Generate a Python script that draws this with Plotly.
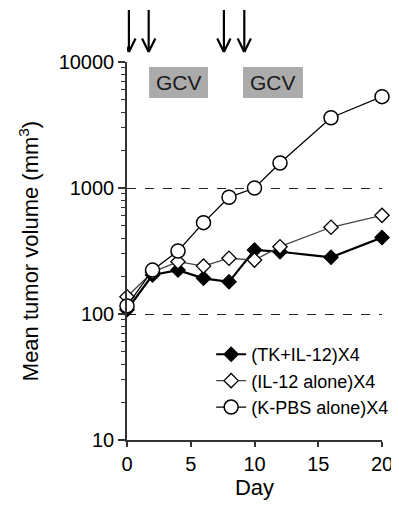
import plotly.graph_objects as go

days = [0, 2, 4, 6, 8, 10, 12, 16, 20]
tk_il12 = [108, 204, 223, 192, 180, 322, 312, 282, 404]
il12_alone = [137, 215, 260, 240, 277, 268, 342, 488, 607]
kpbs_alone = [116, 223, 316, 531, 844, 1000, 1580, 3610, 5310]

series_names = ["(TK+IL-12)X4", "(IL-12 alone)X4", "(K-PBS alone)X4"]
arrow_days = [0.15, 1.7, 7.6, 9.2]
gcv_spans = [(1.73, 6.35), (9.1, 13.8)]
gcv_label = "GCV"
y_ticks = [10, 100, 1000, 10000]
x_ticks = [0, 5, 10, 15, 20]

FONT = "Liberation Sans, Arial, sans-serif"

fig = go.Figure()
fig.add_trace(go.Scatter(
    x=days, y=tk_il12, name=series_names[0], mode="lines+markers",
    line=dict(color="black", width=2.2),
    marker=dict(symbol="diamond", size=11, color="black", line=dict(color="black", width=1.2)),
    cliponaxis=False))
fig.add_trace(go.Scatter(
    x=days, y=il12_alone, name=series_names[1], mode="lines+markers",
    line=dict(color="#444", width=1.3),
    marker=dict(symbol="diamond", size=11, color="white", line=dict(color="black", width=1.3)),
    cliponaxis=False))
fig.add_trace(go.Scatter(
    x=days, y=kpbs_alone, name=series_names[2], mode="lines+markers",
    line=dict(color="black", width=1.3),
    marker=dict(symbol="circle", size=14, color="white", line=dict(color="black", width=1.5)),
    cliponaxis=False))

shapes = []
# arrows (treatment days)
tip, tail, head = 1.0265, 1.1376, 1.062
for d in arrow_days:
    shapes.append(dict(type="line", xref="x", yref="paper", x0=d, x1=d, y0=tail, y1=tip,
                       line=dict(color="black", width=2.2)))
    shapes.append(dict(type="line", xref="x", yref="paper", x0=d - 0.52, x1=d, y0=head, y1=tip,
                       line=dict(color="black", width=2.2)))
    shapes.append(dict(type="line", xref="x", yref="paper", x0=d + 0.52, x1=d, y0=head, y1=tip,
                       line=dict(color="black", width=2.2)))

annotations = []
for (a, b) in gcv_spans:
    shapes.append(dict(type="rect", xref="x", yref="paper", x0=a, x1=b, y0=0.905, y1=0.987,
                       fillcolor="#ababab", line=dict(width=0), layer="below"))
    annotations.append(dict(x=(a + b) / 2, y=0.946, xref="x", yref="paper", text=gcv_label,
                            xanchor="center", yanchor="middle",
                            showarrow=False, font=dict(family=FONT, size=21, color="#1a1a1a")))

# page body has an 8px margin: shrink the figure so the plot lands where the reference has it
fig.update_layout(
    width=391, height=497,
    margin=dict(l=119, r=17, t=54, b=65, autoexpand=False),
    paper_bgcolor="white", plot_bgcolor="white",
    font=dict(family=FONT, size=20, color="black"),
    shapes=shapes, annotations=annotations,
    showlegend=True,
    legend=dict(x=0.33, xanchor="left", y=0.275, yanchor="top",
                font=dict(family=FONT, size=18, color="black"),
                bgcolor="rgba(0,0,0,0)", tracegroupgap=0),
    xaxis=dict(range=[0, 20], tickvals=x_ticks, showline=True, linecolor="#333", linewidth=1.5,
               ticks="outside", ticklen=5, tickwidth=1.5, tickcolor="#333", showgrid=False, zeroline=False,
               tickfont=dict(size=20),
               title=dict(text="Day", font=dict(size=22), standoff=2)),
    yaxis=dict(type="log", range=[1, 4], tickvals=y_ticks, ticktext=[str(v) for v in y_ticks],
               showline=True, linecolor="#333", linewidth=1.5,
               ticks="outside", ticklen=7, tickwidth=1.5, tickcolor="#333",
               showgrid=True, gridcolor="#222", griddash="dash", gridwidth=1, zeroline=False,
               tickfont=dict(size=20),
               minor=dict(tickvals=[v * m for v in [10, 100, 1000] for m in range(2, 10)],
                          ticks="outside", ticklen=4, tickwidth=1, tickcolor="#333", showgrid=False),
               title=dict(text="Mean tumor volume (mm<sup>3</sup>)", font=dict(size=22), standoff=14)),
)

fig.write_html("out.html")
